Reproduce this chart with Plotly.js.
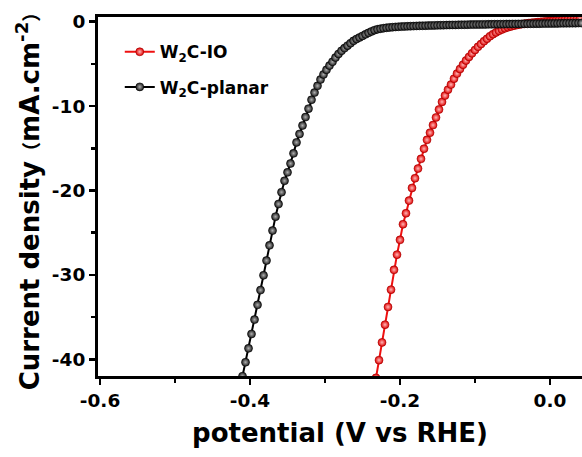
<!DOCTYPE html>
<html><head><meta charset="utf-8">
<script src="https://cdn.plot.ly/plotly-3.0.1.min.js"></script>
<style>html,body{margin:0;padding:0;background:#fff}#chart{width:582px;height:457px}</style>
</head><body><div id="chart"></div>
<script>
// W2C-IO (red)
const ioPotential = [-0.232,-0.228,-0.224,-0.220,-0.216,-0.212,-0.208,-0.204,-0.200,-0.196,-0.192,-0.188,-0.184,-0.180,-0.176,-0.172,-0.168,-0.164,-0.160,-0.156,-0.152,-0.148,-0.144,-0.140,-0.136,-0.132,-0.128,-0.124,-0.120,-0.116,-0.112,-0.108,-0.104,-0.100,-0.096,-0.092,-0.088,-0.084,-0.080,-0.076,-0.072,-0.068,-0.064,-0.060,-0.056,-0.052,-0.048,-0.044,-0.040,-0.036,-0.032,-0.028,-0.024,-0.020,-0.016,-0.012,-0.008,-0.004,0.000,0.004,0.008,0.012,0.016,0.020,0.024,0.028,0.032,0.036,0.040];
const ioCurrent = [-42.2,-40.1,-38.0,-35.9,-33.8,-31.75,-29.4,-27.6,-25.85,-24.0,-22.7,-21.2,-19.7,-18.55,-17.4,-16.25,-15.05,-14.0,-13.15,-12.25,-11.35,-10.4,-9.5,-8.75,-8.05,-7.45,-6.75,-6.15,-5.6,-5.1,-4.6,-4.17,-3.75,-3.35,-2.97,-2.65,-2.31,-2.02,-1.72,-1.48,-1.27,-1.08,-0.92,-0.78,-0.66,-0.56,-0.47,-0.39,-0.32,-0.26,-0.21,-0.16,-0.12,-0.08,-0.05,-0.02,0.01,0.04,0.07,0.10,0.13,0.16,0.19,0.22,0.25,0.28,0.31,0.34,0.37];
// W2C-planar (black)
const planarPotential = [-0.410,-0.406,-0.402,-0.398,-0.394,-0.390,-0.386,-0.382,-0.378,-0.374,-0.370,-0.366,-0.362,-0.358,-0.354,-0.350,-0.346,-0.342,-0.338,-0.334,-0.330,-0.326,-0.322,-0.318,-0.314,-0.310,-0.306,-0.302,-0.298,-0.294,-0.290,-0.286,-0.282,-0.278,-0.274,-0.270,-0.266,-0.262,-0.258,-0.254,-0.250,-0.246,-0.242,-0.238,-0.234,-0.230,-0.226,-0.222,-0.218,-0.214,-0.210,-0.206,-0.202,-0.198,-0.194,-0.190,-0.186,-0.182,-0.178,-0.174,-0.170,-0.166,-0.162,-0.158,-0.154,-0.150,-0.146,-0.142,-0.138,-0.134,-0.130,-0.126,-0.122,-0.118,-0.114,-0.110,-0.106,-0.102,-0.098,-0.094,-0.090,-0.086,-0.082,-0.078,-0.074,-0.070,-0.066,-0.062,-0.058,-0.054,-0.050,-0.046,-0.042,-0.038,-0.034,-0.030,-0.026,-0.022,-0.018,-0.014,-0.010,-0.006,-0.002,0.002,0.006,0.010,0.014,0.018,0.022,0.026,0.030,0.034,0.038,0.042];
const planarCurrent = [-42.0,-40.35,-38.7,-37.0,-35.3,-33.55,-31.8,-30.05,-28.3,-26.5,-24.75,-23.1,-21.6,-20.2,-18.85,-17.85,-16.8,-15.6,-14.3,-13.3,-12.3,-11.3,-10.3,-9.25,-8.4,-7.6,-6.85,-6.25,-5.7,-5.2,-4.75,-4.25,-3.82,-3.45,-3.13,-2.84,-2.55,-2.27,-2.05,-1.87,-1.68,-1.5,-1.32,-1.15,-1.0,-0.9,-0.83,-0.77,-0.72,-0.68,-0.65,-0.62,-0.6,-0.58,-0.56,-0.55,-0.53,-0.52,-0.5,-0.49,-0.48,-0.47,-0.46,-0.45,-0.44,-0.43,-0.42,-0.41,-0.4,-0.39,-0.38,-0.38,-0.37,-0.36,-0.36,-0.35,-0.34,-0.34,-0.33,-0.33,-0.32,-0.32,-0.31,-0.31,-0.3,-0.3,-0.29,-0.29,-0.28,-0.28,-0.27,-0.27,-0.26,-0.26,-0.25,-0.25,-0.24,-0.24,-0.23,-0.23,-0.22,-0.22,-0.21,-0.21,-0.2,-0.2,-0.19,-0.19,-0.18,-0.18,-0.17,-0.17,-0.16,-0.16];

const seriesNames = ['W<sub>2</sub>C-IO', 'W<sub>2</sub>C-planar'];
const xTickVals = [-0.6, -0.4, -0.2, 0.0];
const xTickText = ['-0.6', '-0.4', '-0.2', '0.0'];
const yTickVals = [0, -10, -20, -30, -40];
const yTickText = ['0', '-10', '-20', '-30', '-40'];
const xTitle = 'potential (V vs RHE)';
const yTitle = 'Current density<span style="font-size:19px">（</span>mA.cm<sup>-2</sup><span style="font-size:19px">）</span>';

const boldFont = {family: 'DejaVu Sans, Noto Sans CJK SC, sans-serif', weight: 'bold', color: '#000'};

const traces = [
  {
    x: ioPotential, y: ioCurrent, name: seriesNames[0], type: 'scatter', mode: 'lines+markers',
    legendgroup: 'a',
    line: {color: '#ee1010', width: 2},
    marker: {size: 8, color: '#e00000', line: {color: '#a00000', width: 0.6},
             gradient: {type: 'radial', color: '#ffb8b8'}},
    cliponaxis: true
  },
  {
    x: planarPotential, y: planarCurrent, name: seriesNames[1], type: 'scatter', mode: 'lines+markers',
    legendgroup: 'b',
    line: {color: '#000', width: 2},
    marker: {size: 8, color: '#1a1a1a', line: {color: '#000', width: 0.6},
             gradient: {type: 'radial', color: '#b0b0b0'}},
    cliponaxis: true
  }
];

const layout = {
  width: 582, height: 457,
  margin: {l: 98, r: 0, t: 17, b: 81},
  paper_bgcolor: '#fff', plot_bgcolor: '#fff',
  showlegend: true,
  legend: {
    x: 0.045, y: 0.952, xanchor: 'left', yanchor: 'top',
    bgcolor: 'rgba(0,0,0,0)', borderwidth: 0,
    traceorder: 'grouped', tracegroupgap: 10,
    font: Object.assign({size: 17}, boldFont)
  },
  xaxis: {
    range: [-0.6027, 0.0427],
    tickvals: xTickVals, ticktext: xTickText,
    ticks: 'outside', ticklen: 6, tickwidth: 2.5, tickcolor: '#000',
    minor: {dtick: 0.1, tick0: -0.5, ticks: 'outside', ticklen: 4, tickwidth: 2.5, tickcolor: '#000'},
    showline: true, linewidth: 3, linecolor: '#000', mirror: true,
    showgrid: false, zeroline: false,
    tickfont: Object.assign({size: 18.5}, boldFont),
    title: {text: xTitle, font: Object.assign({size: 26}, boldFont), standoff: 14}
  },
  yaxis: {
    range: [-41.98, 0.557],
    tickvals: yTickVals, ticktext: yTickText,
    ticks: 'outside', ticklen: 6, tickwidth: 2.5, tickcolor: '#000',
    minor: {dtick: 10, tick0: -5, ticks: 'outside', ticklen: 4, tickwidth: 2.5, tickcolor: '#000'},
    showline: true, linewidth: 3, linecolor: '#000', mirror: false,
    showgrid: false, zeroline: false,
    tickfont: Object.assign({size: 18.5}, boldFont),
    title: {text: yTitle, font: Object.assign({size: 26}, boldFont), standoff: 5}
  }
};

Plotly.newPlot('chart', traces, layout, {staticPlot: true, displayModeBar: false});
</script>
</body></html>
